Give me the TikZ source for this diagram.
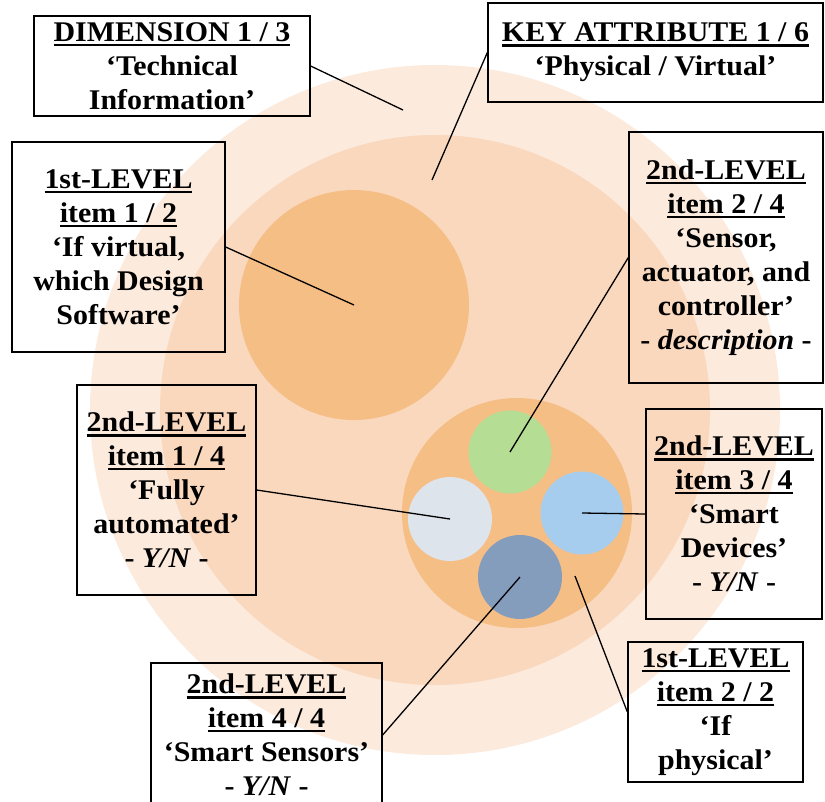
\documentclass[tikz,border=0pt]{standalone}
\usepackage{fontspec}
\setmainfont[FakeStretch=1.05]{Liberation Serif}
\definecolor{ringA}{RGB}{252,234,221}
\definecolor{ringB}{RGB}{249,216,189}
\definecolor{ringC}{RGB}{245,190,133}
\definecolor{dotGreen}{RGB}{181,221,148}
\definecolor{dotGray}{RGB}{222,228,236}
\definecolor{dotLight}{RGB}{166,205,238}
\definecolor{dotDark}{RGB}{133,157,189}
\newcommand{\myul}[1]{\leavevmode\vtop{\hbox{#1}\kern2pt\hrule height 2.4pt}}
\begin{document}
\begin{tikzpicture}[x=1pt,y=-1pt,
  disc/.style={circle,inner sep=0pt,outer sep=0pt,draw=none},
  labelbox/.style={draw=black,line width=1.3pt,align=center,inner sep=0pt,
    font=\fontsize{28.5}{34}\selectfont\bfseries},
  conn/.style={draw=black,line width=1.3pt}]
\useasboundingbox (0,0) rectangle (825,801);
% circles
\node[disc,fill=ringA,minimum size=690pt] (outer) at (435,410) {};
\node[disc,fill=ringB,minimum size=550pt] (middle) at (435,410) {};
\node[disc,fill=ringC,minimum size=230pt] (virt) at (354,305) {};
\node[disc,fill=ringC,minimum size=230pt] (phys) at (517,513) {};
\node[disc,fill=dotGreen,minimum size=83pt] (green) at (510,452) {};
\node[disc,fill=dotGray,minimum size=84pt] (gray) at (450,519) {};
\node[disc,fill=dotLight,minimum size=83pt] (lblue) at (582,513) {};
\node[disc,fill=dotDark,minimum size=84pt] (dblue) at (520,577) {};
% label boxes
\node[labelbox,minimum width=276pt,minimum height=100pt] (dim) at (172,66)
  {\myul{DIMENSION 1 / 3}\\‘Technical\\Information’};
\node[labelbox,minimum width=335pt,minimum height=99pt] (key) at (655.5,52.5)
  {\myul{KEY ATTRIBUTE 1 / 6}\\‘Physical / Virtual’};
\node[labelbox,minimum width=213pt,minimum height=210pt] (lA) at (118.5,247)
  {\myul{1st-LEVEL}\\\myul{item 1 / 2}\\‘If virtual,\\which Design\\Software’};
\node[labelbox,minimum width=194pt,minimum height=251pt] (lB) at (726,257.5)
  {\myul{2nd-LEVEL}\\\myul{item 2 / 4}\\‘Sensor,\\actuator, and\\controller’\\- \textit{description} -};
\node[labelbox,minimum width=179pt,minimum height=210pt] (lC) at (166.5,490)
  {\myul{2nd-LEVEL}\\\myul{item 1 / 4}\\‘Fully\\automated’\\- \textit{Y/N} -};
\node[labelbox,minimum width=176pt,minimum height=210pt] (lD) at (734,514)
  {\myul{2nd-LEVEL}\\\myul{item 3 / 4}\\‘Smart\\Devices’\\- \textit{Y/N} -};
\node[labelbox,minimum width=231pt,minimum height=144pt] (lE) at (266.5,735)
  {\myul{2nd-LEVEL}\\\myul{item 4 / 4}\\‘Smart Sensors’\\- \textit{Y/N} -};
\node[labelbox,minimum width=175pt,minimum height=140pt] (lF) at (715.5,712)
  {\myul{1st-LEVEL}\\\myul{item 2 / 2}\\‘If\\physical’};
% connector ends
\coordinate (pDim) at (403,110);
\coordinate (pKey) at (432,180);
\coordinate (pPhys) at (575,576);
% connectors
\draw[conn] (dim.east) -- (pDim);
\draw[conn] (key.west) -- (pKey);
\draw[conn] (lA.east) -- (virt.center);
\draw[conn] (lB.west) -- (green.center);
\draw[conn] (lC.east) -- (gray.center);
\draw[conn] (lD.west) -- (lblue.center);
\draw[conn] (lE.east) -- (dblue.center);
\draw[conn] (lF.west) -- (pPhys);
\end{tikzpicture}
\end{document}
